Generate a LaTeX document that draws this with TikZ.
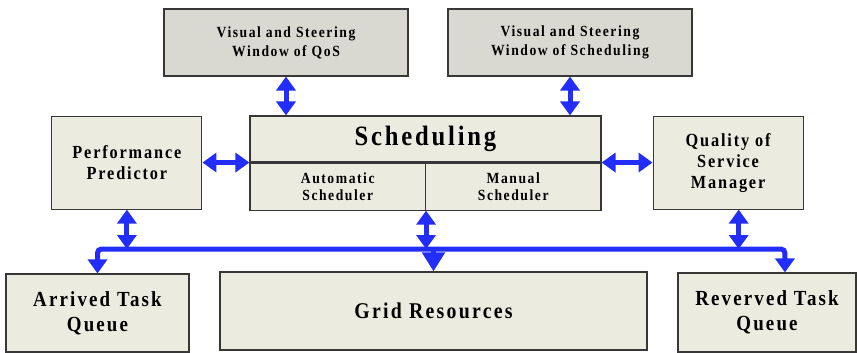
\documentclass[tikz,border=0pt]{standalone}
\usepackage{fontspec}
\setmainfont{Liberation Serif}[FakeStretch=0.88, LetterSpace=10]
\usetikzlibrary{positioning, calc, arrows.meta}

\definecolor{arrowblue}{RGB}{35,45,250}
\definecolor{boxfill}{RGB}{235,235,224}
\definecolor{winfill}{RGB}{217,217,209}
\definecolor{boxline}{RGB}{55,55,55}

\begin{document}
\begin{tikzpicture}[x=1pt, y=-1pt]
    \tikzstyle{block} = [draw=boxline, fill=boxfill, line width=1.1pt, inner sep=0pt, align=center];
    \tikzstyle{window} = [block, fill=winfill, minimum width=244pt, minimum height=67pt, font=\bfseries\fontsize{15.5}{19}\selectfont];
    \tikzstyle{side} = [block, minimum width=150pt, minimum height=93pt, font=\bfseries\fontsize{18.5}{21}\selectfont];
    \tikzstyle{sub} = [block, minimum width=175.5pt, minimum height=47pt, font=\bfseries\fontsize{15.5}{17}\selectfont];
    \tikzstyle{queue} = [block, minimum height=78pt, font=\bfseries\fontsize{21.5}{25}\selectfont];
    \tikzstyle{twoway} = [arrowblue, line width=5pt, {Triangle[length=14pt, width=19pt]}-{Triangle[length=14pt, width=19pt]}];
    \tikzstyle{down} = [arrowblue, line width=5pt, -{Triangle[length=19pt, width=22pt]}];

    \useasboundingbox (0,0) rectangle (857,353);

    \node[window] (visqos) at (286,42.5) {Visual and Steering\\Window of QoS};
    \node[window] (vissched) at (570,42.5) {Visual and Steering\\Window of Scheduling};

    \node[block, minimum width=351pt, minimum height=46pt, font=\bfseries\fontsize{28}{30}\selectfont] (schedtop) at (425.5,139) {Scheduling};
    \node[sub, anchor=north west] (auto) at (schedtop.south west) {Automatic\\Scheduler};
    \node[sub, anchor=north east] (manual) at (schedtop.south east) {Manual\\Scheduler};

    \node[side, left=47pt of schedtop.south west] (perf) {Performance\\Predictor};
    \node[side, right=51pt of schedtop.south east] (qos) {Quality of\\Service\\Manager};

    \node[queue, minimum width=183pt] (arrived) at (97.5,313) {Arrived Task\\Queue};
    \node[queue, minimum width=427pt, font=\bfseries\fontsize{22.5}{25}\selectfont] (grid) at (433.5,311) {Grid Resources};
    \node[queue, minimum width=178pt, minimum height=79pt] (reverved) at (767,312.5) {Reverved Task\\Queue};

    \coordinate (bus) at (0,249);
    \coordinate (qfoot) at ($(qos.south west)!0.57!(qos.south east)$);
    \coordinate (revtop) at ($(reverved.north west)!0.6!(reverved.north east)$);

    \draw[twoway] (visqos.south) -- (visqos.south |- schedtop.north);
    \draw[twoway] (vissched.south) -- (vissched.south |- schedtop.north);
    \draw[twoway] (perf.east) -- (auto.north west);
    \draw[twoway] (manual.north east) -- (qos.west);

    \draw[twoway] (perf.south) -- (perf.south |- bus);
    \draw[twoway] (auto.south east) -- (auto.south east |- bus);
    \draw[twoway] (qfoot) -- (qfoot |- bus);

    \draw[twoway, rounded corners=4pt] (arrived.north) |- (revtop |- bus) -- (revtop);
    \draw[down] (grid.north |- bus) -- (grid.north);
\end{tikzpicture}
\end{document}
